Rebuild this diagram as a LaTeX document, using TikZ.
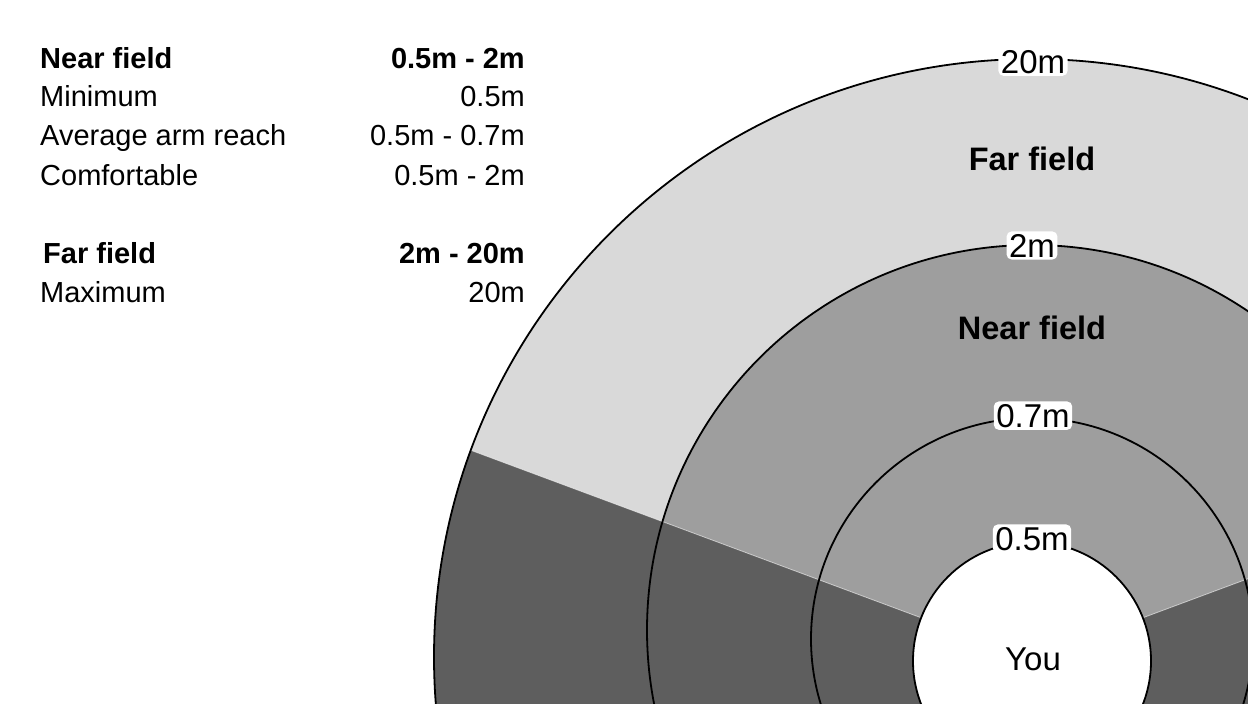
\documentclass[tikz,border=0pt]{standalone}
\usepackage{fontspec}
\setmainfont{Liberation Sans}
\definecolor{farcol}{HTML}{D9D9D9}
\definecolor{nearcol}{HTML}{9E9E9E}
\definecolor{darkcol}{HTML}{5E5E5E}
\begin{document}
\begin{tikzpicture}[x=1pt,y=-1pt,
  lefttext/.style={anchor=base west, inner sep=0pt, font=\fontsize{29}{35}\selectfont},
  righttext/.style={anchor=base east, inner sep=0pt, font=\fontsize{29}{35}\selectfont},
  ringlabel/.style={anchor=base, fill=white, rounded corners=5pt, inner sep=2.5pt, font=\fontsize{33}{39}\selectfont},
  zonelabel/.style={anchor=base, inner sep=0pt, font=\bfseries\fontsize{32.5}{39}\selectfont},
  ring/.style={draw=black, line width=1.8pt},
  seam/.style={draw=white, line width=0.8pt, opacity=0.6}]
\useasboundingbox (0,0) rectangle (1248,704);
\clip (0,0) rectangle (1248,704);
% centres of the rings
\coordinate (c20) at (1032,657);
\coordinate (c2) at (1032,630);
\coordinate (c07) at (1032,639);
\coordinate (c05) at (1032,661);
\coordinate (cw) at (1032,659);
\coordinate (wl) at (376,415);
\coordinate (wr) at (1688,415);
% fills
\fill[farcol] (c20) circle[radius=598pt];
\fill[nearcol] (c2) circle[radius=385pt];
\fill[nearcol] (c07) circle[radius=221pt];
\begin{scope}
  \clip (c20) circle[radius=598pt];
  \fill[darkcol] (cw) -- (wl) -- (376,1300) -- (1688,1300) -- (wr) -- cycle;
  \draw[seam] (cw) -- (wl);
  \draw[seam] (cw) -- (wr);
\end{scope}
\fill[white] (c05) circle[radius=119pt];
% outlines
\draw[ring] (c20) circle[radius=598pt];
\draw[ring] (c2) circle[radius=385pt];
\draw[ring] (c07) circle[radius=221pt];
\draw[ring] (c05) circle[radius=119pt];
% ring labels
\node[ringlabel] (l20) at (1033,73) {20m};
\node[zonelabel] (zfar) at (1032,170) {Far field};
\node[ringlabel] (l2) at (1032,257) {2m};
\node[zonelabel] (znear) at (1032,339) {Near field};
\node[ringlabel] (l07) at (1033,427) {0.7m};
\node[ringlabel] (l05) at (1032,550) {0.5m};
\node[anchor=base, inner sep=0pt, font=\fontsize{33}{39}\selectfont] (you) at (1033,670) {You};
% legend
\node[lefttext, font=\bfseries\fontsize{29}{35}\selectfont] (nf) at (40,68) {Near field};
\node[righttext, font=\bfseries\fontsize{29}{35}\selectfont] (nfv) at (525,68) {0.5m - 2m};
\node[lefttext] (mn) at (40,106) {Minimum};
\node[righttext] (mnv) at (525,106) {0.5m};
\node[lefttext] (av) at (40,145) {Average arm reach};
\node[righttext] (avv) at (525,145) {0.5m - 0.7m};
\node[lefttext] (cf) at (40,185) {Comfortable};
\node[righttext] (cfv) at (525,185) {0.5m - 2m};
\node[lefttext, font=\bfseries\fontsize{29}{35}\selectfont] (ff) at (43,263) {Far field};
\node[righttext, font=\bfseries\fontsize{29}{35}\selectfont] (ffv) at (525,263) {2m - 20m};
\node[lefttext] (mx) at (40,302) {Maximum};
\node[righttext] (mxv) at (525,302) {20m};
\end{tikzpicture}
\end{document}
